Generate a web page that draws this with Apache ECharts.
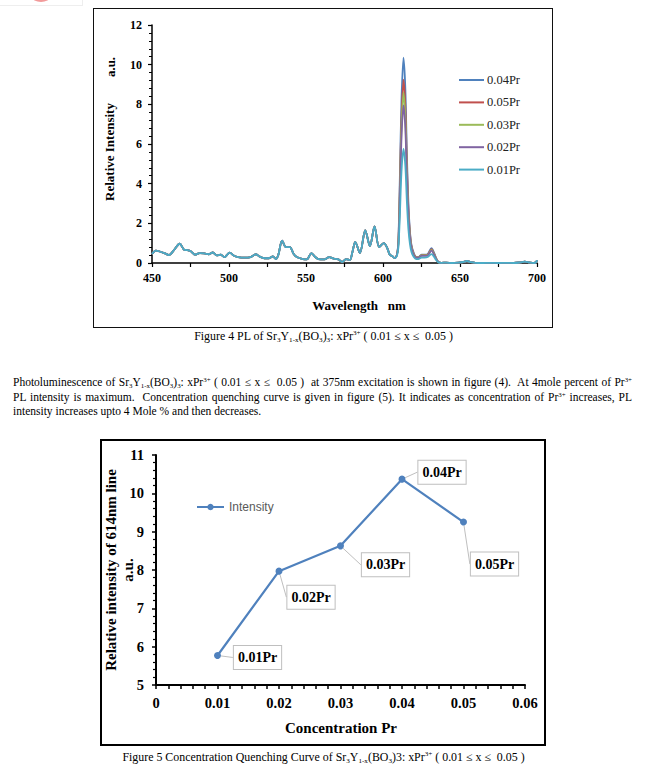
<!DOCTYPE html>
<html><head><meta charset="utf-8">
<script src="https://cdn.jsdelivr.net/npm/echarts@6/dist/echarts.min.js"></script>
<style>
body{margin:0;background:#fff;width:647px;height:770px;position:relative;overflow:hidden;font-family:"Liberation Serif","Times New Roman",serif;color:#000;}
.box{position:absolute;border:1.5px solid #111;box-sizing:border-box;}
.chart{position:absolute;}
.cap{position:absolute;left:0;width:647px;text-align:center;font-size:11.9px;line-height:14px;white-space:nowrap;}
.para{position:absolute;left:13px;width:619px;font-size:11.5px;line-height:14.5px;}
.para .j{text-align:justify;text-align-last:justify;}
sub{font-size:0.6em;vertical-align:-0.25em;line-height:0;}
sup{font-size:0.6em;vertical-align:0.65em;line-height:0;}
</style></head>
<body>
<div style="position:absolute;left:0;top:0;width:82px;height:5px;border-right:1px solid #eee;border-bottom:1px solid #eee;"></div>
<div style="position:absolute;left:32px;top:-8px;width:18px;height:10px;border-radius:50%;background:#f29a9a;"></div>

<div class="box" style="left:93px;top:8px;width:460px;height:320px;"></div>
<div id="c1" class="chart" style="left:93px;top:8px;width:460px;height:320px;"></div>
<div class="cap" style="top:329px;">Figure 4 PL of Sr<sub>3</sub>Y<sub>1-x</sub>(BO<sub>3</sub>)<sub>3</sub>: xPr<sup>3+</sup> ( 0.01 &le; x &le;&nbsp; 0.05 )</div>

<div class="para" style="top:375px;">
<div class="j">Photoluminescence of Sr<sub>3</sub>Y<sub>1-x</sub>(BO<sub>3</sub>)<sub>3</sub>: xPr<sup>3+</sup> ( 0.01 &le; x &le;&nbsp; 0.05 )&nbsp; at 375nm excitation is shown in figure (4).&nbsp; At 4mole percent of Pr<sup>3+</sup></div>
<div class="j">PL intensity is maximum.&nbsp; Concentration quenching curve is given in figure (5). It indicates as concentration of Pr<sup>3+</sup> increases, PL</div>
<div>intensity increases upto 4 Mole % and then decreases.</div>
</div>

<div class="box" style="left:100px;top:439px;width:446px;height:307px;border-width:2px;border-color:#000;"></div>
<div id="c2" class="chart" style="left:100px;top:439px;width:446px;height:307px;"></div>
<div class="cap" style="top:750px;">Figure 5 Concentration Quenching Curve of Sr<sub>3</sub>Y<sub>1-x</sub>(BO<sub>3</sub>)3: xPr<sup>3+</sup> ( 0.01 &le; x &le;&nbsp; 0.05 )</div>

<script>
// ---------- Figure 4 data ----------
const wlBase = [450,452.5,455,458,461,464,468,471,473,475,478,481,484,487,489.5,492,494.5,497,500.5,503,506,510,514,517.5,520,523,526,528.5,530.5,532,534.5,537,539.5,542,544,548,550.5,553.5,556,558,562,565,568,571,573.5,576,578.5,580,582,585,588.5,591.5,594.5,597.5,600.5,602.5,604.5,606,607.5];
const intBase = [0.45,0.62,0.58,0.5,0.4,0.62,0.97,0.66,0.65,0.6,0.42,0.5,0.48,0.44,0.53,0.38,0.42,0.3,0.52,0.38,0.3,0.27,0.3,0.44,0.32,0.24,0.24,0.33,0.2,0.4,1.13,0.8,0.8,0.45,0.3,0.2,0.18,0.5,0.3,0.2,0.18,0.3,0.22,0.18,0.05,0.2,0.15,0.5,1.07,0.5,1.65,0.85,1.85,0.8,1.0,0.8,0.4,0.35,0.25];
const wlPeak = [609,610,611,612,613.3,614.5,615.5,616.5,617.5,618.5,620,621.5,623,625,627,629,631.5,633,634.5,636,638];
const peak004 = [0.4,1.2,4.5,8.2,10.35,8.8,5.5,3.0,1.6,0.9,0.5,0.3,0.3,0.42,0.42,0.45,0.75,0.55,0.25,0.05,0.01];
const peak005 = [0.4,1.1,4.0,7.3,9.25,7.9,5.0,2.7,1.5,0.85,0.45,0.3,0.28,0.4,0.4,0.42,0.7,0.5,0.23,0.05,0.01];
const peak003 = [0.4,1.0,3.7,6.8,8.6,7.3,4.6,2.5,1.4,0.8,0.42,0.28,0.27,0.38,0.38,0.4,0.66,0.48,0.22,0.04,0.01];
const peak002 = [0.4,0.95,3.4,6.3,7.95,6.8,4.3,2.4,1.3,0.75,0.4,0.27,0.26,0.36,0.36,0.38,0.62,0.45,0.2,0.04,0.01];
const peak001 = [0.35,0.8,2.5,4.6,5.75,4.9,3.1,1.7,0.95,0.55,0.3,0.2,0.2,0.27,0.27,0.3,0.45,0.33,0.15,0.03,0.01];
const wlTail = [641,645,649,652,654.5,657,660,665,670,675,680,685,689,692,695,698,699.5,700];
const intTail = [0.02,0.0,0.02,0.05,0.1,0.04,0.01,0.0,0.01,0.0,0.01,0.0,0.03,0.07,0.03,0.0,0.05,0.15];
const seriesNames1 = ['0.04Pr','0.05Pr','0.03Pr','0.02Pr','0.01Pr'];
const peakSets = [peak004,peak005,peak003,peak002,peak001];
const colors1 = ['#4F81BD','#C0504D','#9BBB59','#8064A2','#4BACC6'];

// ---------- Figure 5 data ----------
const conc = [0.01,0.02,0.03,0.04,0.05];
const intensity614 = [5.77,7.97,8.63,10.37,9.25];
const concLabels = ['0.01Pr','0.02Pr','0.03Pr','0.04Pr','0.05Pr'];

const serif = '"Liberation Serif","Times New Roman",serif';
function zip(xs, ys){ return xs.map((x,i)=>[x, ys[i]]); }

// ---------- Chart 1 ----------
const c1 = echarts.init(document.getElementById('c1'), null, {renderer:'svg'});
const axisCommon = {
  axisLine:{show:true,lineStyle:{color:'#000',width:1.5}},
  splitLine:{show:false},
  axisLabel:{color:'#000',fontFamily:serif,fontWeight:'bold',fontSize:12}
};
c1.setOption({
  animation:false,
  grid:{left:59,right:16,top:17,bottom:65},
  xAxis:Object.assign({}, axisCommon, {type:'value',min:450,max:700,interval:50,
    axisTick:{show:true,length:4,lineStyle:{color:'#000',width:1.2}},
    minorTick:{show:true,splitNumber:2,length:4,lineStyle:{color:'#000',width:1.2}},
    axisLabel:Object.assign({}, axisCommon.axisLabel,{margin:9})}),
  yAxis:Object.assign({}, axisCommon, {type:'value',min:0,max:12,interval:2,
    axisTick:{show:true,length:4,lineStyle:{color:'#000',width:1.2}},
    minorTick:{show:true,splitNumber:5,length:3,lineStyle:{color:'#000',width:1}},
    axisLabel:Object.assign({}, axisCommon.axisLabel,{margin:10})}),
  legend:{orient:'vertical',left:366,top:65,itemWidth:25,itemHeight:2,itemGap:8.4,padding:0,
    icon:'rect',
    data:seriesNames1,
    textStyle:{fontFamily:serif,fontSize:12.5,lineHeight:14,color:'#222',padding:[0,0,0,-2]}},
  graphic:[
    {type:'text',x:16,y:144,rotation:Math.PI/2,style:{text:'Relative Intensity',font:'bold 13px '+serif,fill:'#000',textAlign:'center',textVerticalAlign:'middle'}},
    {type:'text',x:17,y:59,rotation:Math.PI/2,style:{text:'a.u.',font:'bold 13px '+serif,fill:'#000',textAlign:'center',textVerticalAlign:'middle'}},
    {type:'text',x:266,y:297,style:{text:'Wavelength   nm',font:'bold 13px '+serif,fill:'#000',textAlign:'center',textVerticalAlign:'middle'}}
  ],
  series: seriesNames1.map((n,k)=>({
    name:n,type:'line',symbol:'none',smooth:0.3,color:colors1[k],
    lineStyle:{width:1.8,color:colors1[k]},
    data: zip(wlBase,intBase).concat(zip(wlPeak,peakSets[k]), zip(wlTail,intTail))
  }))
});

// ---------- Chart 2 ----------
const labelOffsets = [[40,2],[32,26],[45,19],[40,-7],[31,42]];
const c2 = echarts.init(document.getElementById('c2'), null, {renderer:'svg'});
const axis2 = {
  axisLine:{show:true,lineStyle:{color:'#000',width:2}},
  splitLine:{show:false},
  axisTick:{show:true,length:4,lineStyle:{color:'#000',width:1.5}},
  axisLabel:{color:'#000',fontFamily:serif,fontWeight:'bold',fontSize:14.5}
};
c2.setOption({
  animation:false,
  grid:{left:56,right:21,top:16,bottom:61},
  xAxis:Object.assign({}, axis2, {type:'value',min:0,max:0.06,interval:0.01,
    minorTick:{show:true,splitNumber:5,length:4,lineStyle:{color:'#000',width:1.5}},
    axisLabel:Object.assign({}, axis2.axisLabel,{margin:10,formatter:v=>v===0?'0':v.toFixed(2)})}),
  yAxis:Object.assign({}, axis2, {type:'value',min:5,max:11,interval:1,
    minorTick:{show:true,splitNumber:5,length:3,lineStyle:{color:'#000',width:1.2}},
    axisLabel:Object.assign({}, axis2.axisLabel,{margin:12})}),
  legend:{left:96,top:62,itemWidth:27,itemHeight:8,padding:0,data:['Intensity'],
    textStyle:{fontFamily:'"Liberation Sans",Arial,sans-serif',fontSize:12,color:'#595959'}},
  graphic:[
    {type:'text',x:19.5,y:131,rotation:Math.PI/2,style:{text:'Relative intensity of 614nm line\na.u.',font:'bold 15px '+serif,lineHeight:17,fill:'#000',textAlign:'center',textVerticalAlign:'middle'}},
    {type:'text',x:241,y:289,style:{text:'Concentration Pr',font:'bold 15px '+serif,fill:'#000',textAlign:'center',textVerticalAlign:'middle'}}
  ],
  series:[{
    name:'Intensity',type:'line',symbol:'circle',symbolSize:7,color:'#4F81BD',
    lineStyle:{width:2.2,color:'#4F81BD'},itemStyle:{color:'#4F81BD'},
    data: zip(conc,intensity614),
    label:{show:true,position:'inside',formatter:p=>concLabels[p.dataIndex],
      fontFamily:serif,fontWeight:'bold',fontSize:14,color:'#000',
      backgroundColor:'#fff',borderColor:'#bfbfbf',borderWidth:1,padding:[5,4,4,4]},
    labelLine:{show:true,lineStyle:{color:'#bfbfbf',width:1}},
    labelLayout:p=>({dx:labelOffsets[p.dataIndex][0],dy:labelOffsets[p.dataIndex][1]})
  }]
});
</script>
</body></html>
